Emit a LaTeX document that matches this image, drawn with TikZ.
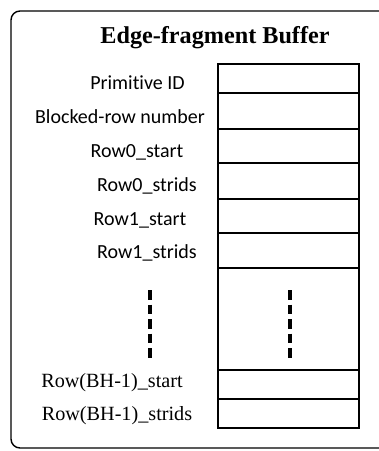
\documentclass[tikz,border=0pt]{standalone}
\usepackage{fontspec}
\setmainfont{Liberation Serif}
\newfontfamily\labelfont[Ligatures=NoCommon]{Carlito}

\begin{document}
\begin{tikzpicture}[x=1pt,y=-1pt,
  cell/.style={draw,line width=2pt,minimum width=141pt,inner sep=0pt},
  sanslabel/.style={anchor=base,font=\labelfont\fontsize{20}{22}\selectfont},
  seriflabel/.style={anchor=base,font=\fontsize{20.2}{22}\selectfont},
  vdots/.style={line width=3.4pt,dash pattern=on 9.5pt off 5pt}]
\clip (0,0) rectangle (379,451);
% outer frame, runs off on the right
\draw[line width=1.4pt,rounded corners=9pt] (11,11) rectangle (395,448);
\node[anchor=base,font=\bfseries\fontsize{24.2}{26}\selectfont] (title)
      at (215,43) {Edge-fragment Buffer};

% buffer fields, top to bottom
\foreach \nm/\y/\h in {pid/78.5/29,brn/111/36,rzs/146/34,rzt/181/36,
                        ros/216/34,rot/250.5/35,gap/319/102,
                        rls/384.5/29,rlt/413.5/29} {
  \node[cell,minimum height=\h pt] (\nm) at (288.5,\y) {};
}

% field names
\foreach \nm/\x/\y/\lab in {pid/137.5/89/{Primitive ID},
                            brn/120/123/{Blocked-row number},
                            rzs/137/157/{Row0\_start},
                            rzt/147/191/{Row0\_strids},
                            ros/140/225/{Row1\_start},
                            rot/147/258/{Row1\_strids}} {
  \node[sanslabel] (\nm-lab) at (\x,\y) {\lab};
}
\node[seriflabel] (rls-lab) at (112,387) {Row(BH-1)\_start};
\node[seriflabel] (rlt-lab) at (117,420) {Row(BH-1)\_strids};

% elided rows
\draw[vdots] (150,290) -- (150,357.5);
\draw[vdots] (290,290) -- (290,357.5);
\end{tikzpicture}
\end{document}
